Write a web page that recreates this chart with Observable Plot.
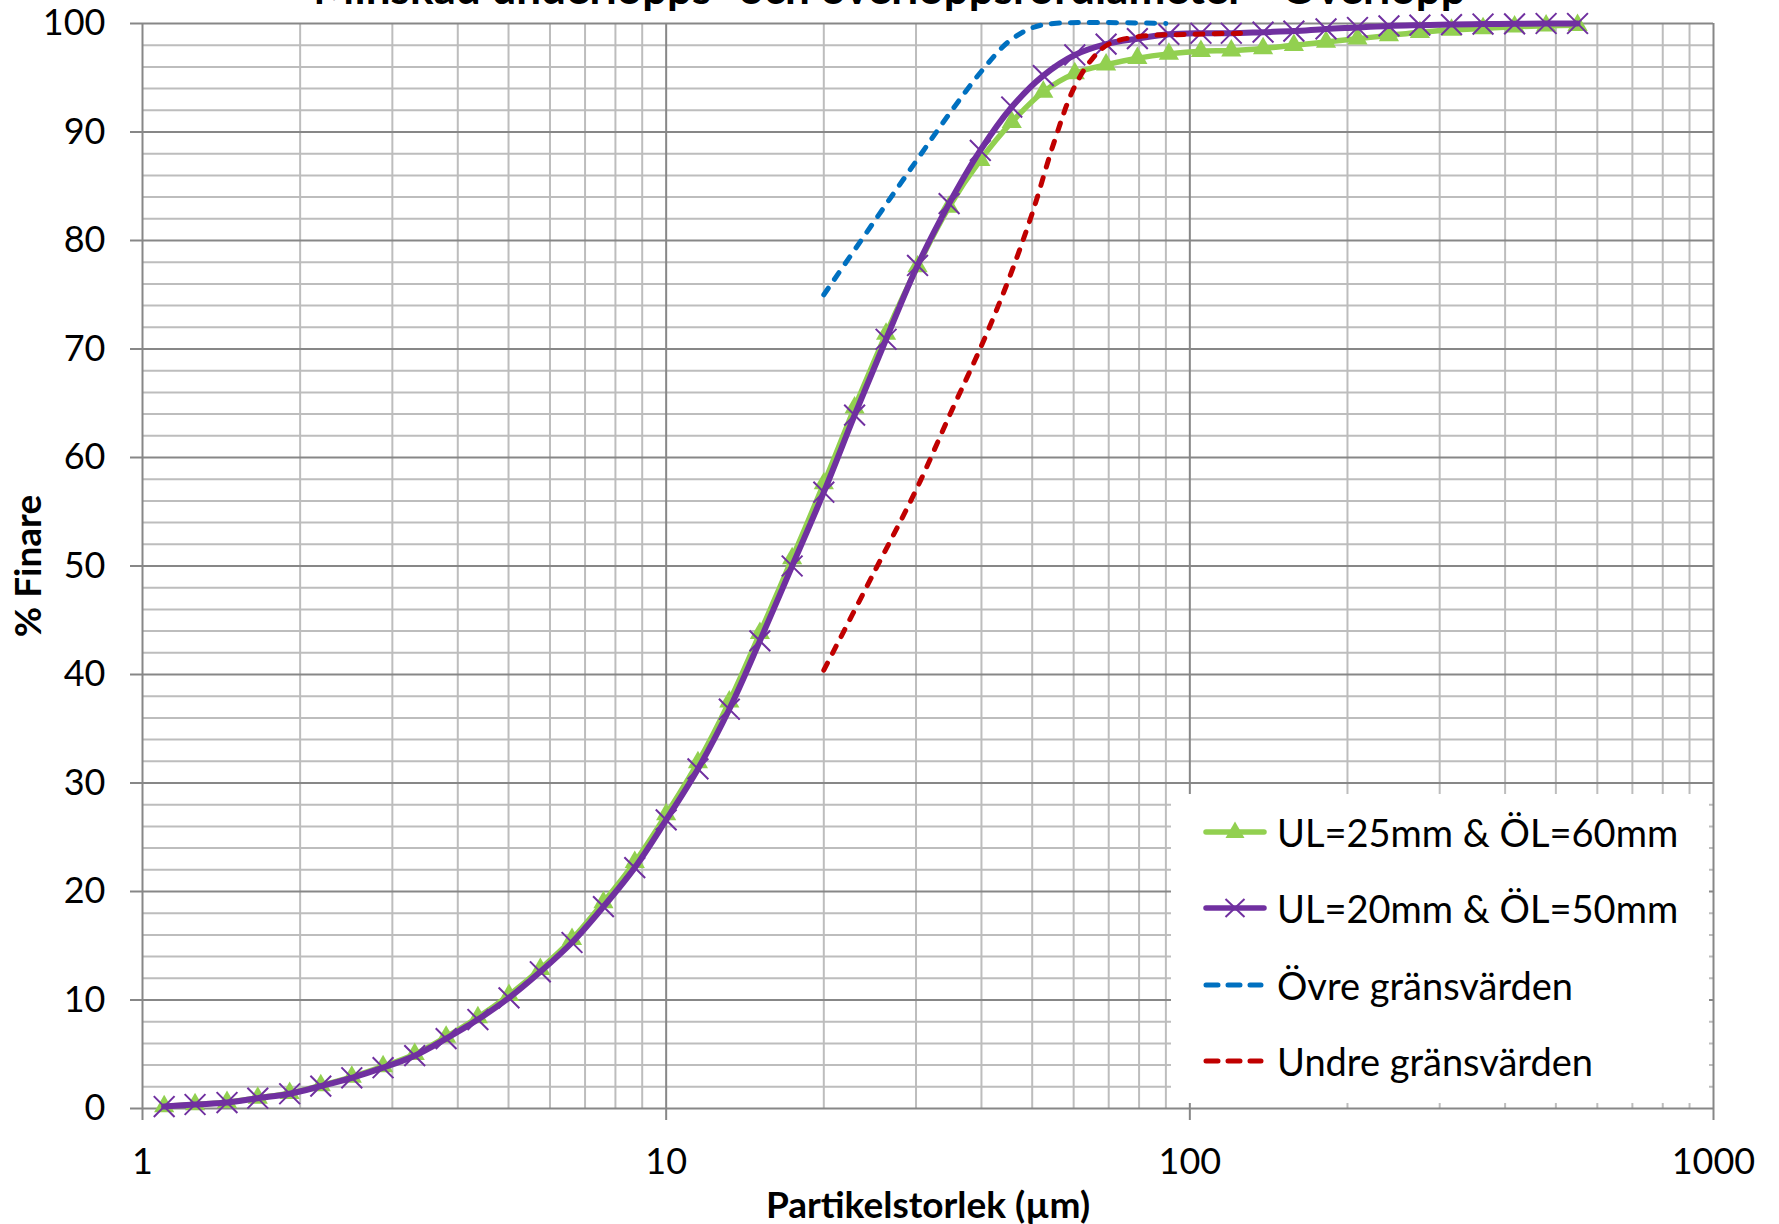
<!DOCTYPE html>
<html>
<head>
<meta charset="utf-8">
<script src="https://cdn.jsdelivr.net/npm/d3@7"></script>
<script src="https://cdn.jsdelivr.net/npm/@observablehq/plot@0.6"></script>
<style>
  html, body { margin: 0; padding: 0; background: #fff; overflow: hidden; }
  #wrap { position: relative; width: 1779px; height: 1224px; font-family: Lato, sans-serif; color: #000; }
  #title { position: absolute; left: 0; width: 1779px; top: -35px; text-align: center; font-weight: 700;
           font-size: 44px; line-height: 1; white-space: nowrap; }
  #legend { position: absolute; left: 1171px; top: 794px; width: 538px; height: 309px; background: #fff; }
  .row { position: absolute; left: 0; height: 50px; display: flex; align-items: center; font-size: 38px; white-space: nowrap; }
  .row svg { margin-left: 32px; margin-right: 10px; }
  svg g[aria-label="x-axis label"] text, svg g[aria-label="y-axis label"] text { font-weight: 700; font-size: 37px; }
</style>
</head>
<body>
<div id="wrap">
  <div id="chart"></div>
  <div id="title">Minskad underlopps- och överloppsrördiameter - Överlopp</div>
  <div id="legend"></div>
</div>
<script>
// ---- data ----
const sizes = [1.10, 1.26, 1.45, 1.66, 1.91, 2.19, 2.51, 2.88, 3.31, 3.80, 4.37, 5.01, 5.75, 6.61, 7.59, 8.71,
  10.0, 11.5, 13.2, 15.1, 17.4, 20.0, 22.9, 26.3, 30.2, 34.7, 39.8, 45.7, 52.5, 60.3, 69.2, 79.4, 91.2,
  105, 120, 138, 158, 182, 209, 240, 275, 316, 363, 417, 479, 550];

const ul25ol60 = [0.2, 0.38, 0.58, 0.98, 1.42, 2.12, 2.92, 3.88, 5.0, 6.6, 8.4, 10.45, 12.85, 15.6, 19.0, 22.7,
  27.1, 31.9, 37.5, 43.8, 50.7, 57.6, 64.6, 71.4, 77.6, 83.1, 87.4, 90.9, 93.7, 95.4, 96.2, 96.8, 97.2,
  97.45, 97.5, 97.7, 98.0, 98.3, 98.6, 98.9, 99.2, 99.4, 99.55, 99.7, 99.8, 99.85];

const ul20ol50 = [0.18, 0.37, 0.55, 0.95, 1.36, 2.06, 2.83, 3.76, 4.87, 6.44, 8.2, 10.2, 12.6, 15.3, 18.6, 22.2,
  26.6, 31.3, 36.8, 43.1, 50.0, 56.8, 63.9, 70.9, 77.7, 83.4, 88.3, 92.3, 95.2, 97.1, 98.1, 98.6, 99.0,
  99.1, 99.1, 99.2, 99.3, 99.5, 99.63, 99.78, 99.85, 99.9, 99.95, 99.97, 100, 100];

const upperSizes = [20, 25, 30, 35, 40, 45, 50, 55, 90];
const upperValues = [75.0, 81.8, 87.3, 91.9, 95.6, 98.3, 99.6, 100, 100];

const lowerSizes = [20, 25, 30, 35, 40, 45, 50, 55, 60, 65, 70, 80, 100, 125];
const lowerValues = [40.4, 49.5, 57.0, 64.2, 70.3, 76.3, 82.5, 89.0, 94.0, 96.7, 98.1, 98.8, 99.0, 99.1];

const seriesNames = ["UL=25mm & ÖL=60mm", "UL=20mm & ÖL=50mm", "Övre gränsvärden", "Undre gränsvärden"];
const seriesColors = ["#92D050", "#7030A0", "#0070C0", "#C00000"];

const xTicks = [1, 10, 100, 1000];
const yTicks = [0, 10, 20, 30, 40, 50, 60, 70, 80, 90, 100];
const xTitle = "Partikelstorlek (µm)";
const yTitle = "% Finare";

// ---- tables for the library ----
const green = sizes.map((s, i) => ({x: s, y: ul25ol60[i]}));
const purple = sizes.map((s, i) => ({x: s, y: ul20ol50[i]}));
const upper = upperSizes.map((s, i) => ({x: s, y: upperValues[i]}));
const lower = lowerSizes.map((s, i) => ({x: s, y: lowerValues[i]}));

const xAll = d3.scaleLog().domain([1, 1000]).ticks();
const xMinor = xAll.filter(v => !xTicks.includes(v));
const yMinor = d3.range(0, 101, 2).filter(v => !yTicks.includes(v));

const majorGrid = "#878787";
const minorGrid = "#bdbdbd";

const chart = Plot.plot({
  width: 1779,
  height: 1224,
  marginLeft: 142,
  marginRight: 66,
  marginTop: 23,
  marginBottom: 116,
  style: {fontFamily: "Lato, sans-serif", fontSize: "36px", color: "#000", background: "#fff", overflow: "visible"},
  x: {type: "log", domain: [1, 1000]},
  y: {domain: [0, 100]},
  marks: [
    Plot.ruleX(xMinor, {stroke: minorGrid, strokeWidth: 2}),
    Plot.ruleY(yMinor, {stroke: minorGrid, strokeWidth: 2}),
    Plot.ruleX(xTicks, {stroke: majorGrid, strokeWidth: 2}),
    Plot.ruleY(yTicks, {stroke: majorGrid, strokeWidth: 2}),
    Plot.axisX({ticks: xTicks, tickFormat: d => String(d), tickSize: 12, tickPadding: 28,
      stroke: majorGrid, strokeWidth: 2, label: xTitle, labelAnchor: "center", labelOffset: 109, labelArrow: "none"}),
    Plot.axisY({ticks: yTicks, tickFormat: d => String(d), tickSize: 12, tickPadding: 25,
      stroke: majorGrid, strokeWidth: 2, label: yTitle, labelAnchor: "center", labelOffset: 128, labelArrow: "none"}),
    Plot.line(green, {x: "x", y: "y", stroke: seriesColors[0], strokeWidth: 5.5, curve: "catmull-rom"}),
    Plot.dot(green, {x: "x", y: "y", symbol: "triangle", r: 7.5, fill: seriesColors[0], stroke: "none"}),
    Plot.line(purple, {x: "x", y: "y", stroke: seriesColors[1], strokeWidth: 6, curve: "catmull-rom"}),
    Plot.dot(purple, {x: "x", y: "y", symbol: "times", r: 9.5, stroke: seriesColors[1], strokeWidth: 2}),
    Plot.line(upper, {x: "x", y: "y", stroke: seriesColors[2], strokeWidth: 5, curve: "catmull-rom",
      strokeDasharray: "8,11", strokeLinecap: "round"}),
    Plot.line(lower, {x: "x", y: "y", stroke: seriesColors[3], strokeWidth: 5, curve: "catmull-rom",
      strokeDasharray: "8,11", strokeLinecap: "round"})
  ]
});
document.getElementById("chart").appendChild(chart);

// ---- legend ----
const legend = document.getElementById("legend");
const rowTops = [13, 89, 166, 242];
seriesNames.forEach((name, i) => {
  const row = document.createElement("div");
  row.className = "row";
  row.style.top = rowTops[i] + "px";
  const c = seriesColors[i];
  let sw = `<svg width="64" height="30" viewBox="0 0 64 30">`;
  if (i < 2) {
    sw += `<line x1="3" y1="15" x2="61" y2="15" stroke="${c}" stroke-width="5.5" stroke-linecap="round"/>`;
    if (i === 0) sw += `<path d="M32,4.5 L41.5,21 L22.5,21 Z" fill="${c}"/>`;
    else sw += `<path d="M22.5,6 L41.5,24 M22.5,24 L41.5,6" stroke="${c}" stroke-width="2"/>`;
  } else {
    sw += `<line x1="3" y1="15" x2="58" y2="15" stroke="${c}" stroke-width="5" stroke-linecap="round" stroke-dasharray="12,10"/>`;
  }
  sw += `</svg>`;
  row.innerHTML = sw + `<span>${name}</span>`;
  legend.appendChild(row);
});
</script>
</body>
</html>
